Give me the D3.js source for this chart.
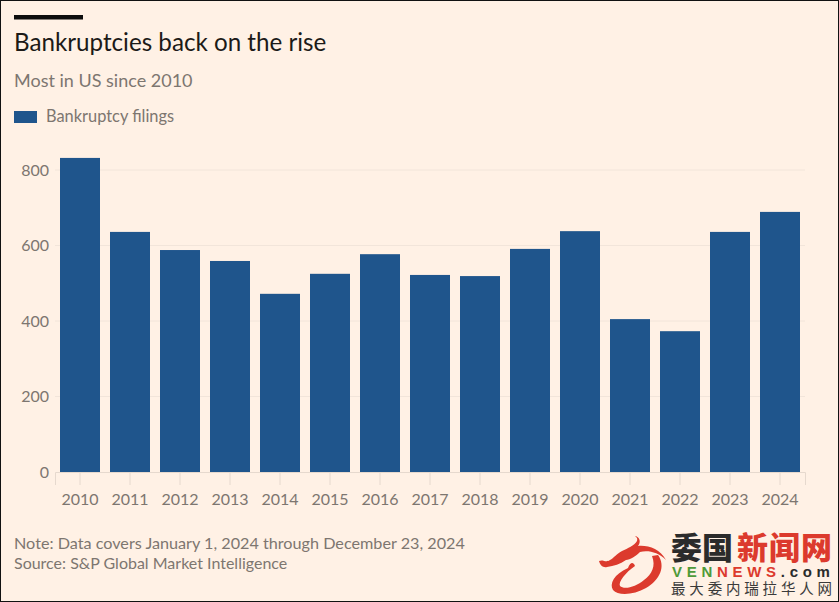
<!DOCTYPE html>
<html>
<head>
<meta charset="utf-8">
<script src="https://cdn.jsdelivr.net/npm/d3@7"></script>
<style>
html, body { margin: 0; padding: 0; background: #fff1e5; }
svg { display: block; font-family: Lato, sans-serif; }
</style>
</head>
<body>
<script>
const years = ["2010", "2011", "2012", "2013", "2014", "2015", "2016", "2017", "2018", "2019", "2020", "2021", "2022", "2023", "2024"];
const filings = [832, 636, 588, 559, 472, 525, 577, 522, 519, 591, 638, 405, 373, 636, 689];
const yTicks = [0, 200, 400, 600, 800];

const width = 839, height = 602;
const grey = "#7d7670";
const blue = "#1f558c";
const red = "#dc3a2d";

const svg = d3.select("body").append("svg")
    .attr("width", width)
    .attr("height", height);

svg.append("rect").attr("width", width).attr("height", height).attr("fill", "#fff1e5");

const x = d3.scaleBand().domain(years).range([55, 805]).paddingInner(0.2).paddingOuter(0.1);
const y = d3.scaleLinear().domain([0, 800]).range([472, 170]);

// header
svg.append("rect").attr("x", 14).attr("y", 15).attr("width", 69).attr("height", 4.5).attr("fill", "#0d0d0d");
svg.append("text").attr("x", 14).attr("y", 51).attr("font-size", 24.2).attr("fill", "#1c1a18").text("Bankruptcies back on the rise");
svg.append("text").attr("x", 14).attr("y", 87).attr("font-size", 18).attr("fill", grey).text("Most in US since 2010");

// legend
svg.append("rect").attr("x", 14).attr("y", 111).attr("width", 23).attr("height", 12).attr("fill", blue);
svg.append("text").attr("x", 46).attr("y", 122).attr("font-size", 16.4).attr("fill", grey).text("Bankruptcy filings");

// grid
svg.append("g").selectAll("line")
    .data(yTicks.filter(d => d > 0))
    .join("line")
    .attr("x1", 55).attr("x2", 805)
    .attr("y1", d => y(d)).attr("y2", d => y(d))
    .attr("stroke", "#f2e5da");

// y axis
const yAxis = svg.append("g")
    .attr("transform", "translate(55,0)")
    .call(d3.axisLeft(y).tickValues(yTicks).tickSize(0).tickPadding(6));
yAxis.select(".domain").remove();
yAxis.selectAll("text").attr("font-family", "Lato, sans-serif").attr("font-size", 16).attr("fill", grey);

// x axis
const xAxis = svg.append("g")
    .attr("transform", "translate(0,472)")
    .call(d3.axisBottom(x).tickSize(13).tickPadding(9));
xAxis.select(".domain").attr("stroke", "#e6d9ce");
xAxis.selectAll("line").attr("stroke", "#e6d9ce");
xAxis.selectAll("text").attr("font-family", "Lato, sans-serif").attr("font-size", 16).attr("fill", grey);

// bars
svg.append("g").selectAll("rect")
    .data(filings)
    .join("rect")
    .attr("x", (d, i) => x(years[i]))
    .attr("y", d => y(d))
    .attr("width", x.bandwidth())
    .attr("height", d => y(0) - y(d))
    .attr("fill", blue);

// footer
svg.append("text").attr("x", 14).attr("y", 549).attr("font-size", 16.2).attr("fill", grey).text("Note: Data covers January 1, 2024 through December 23, 2024");
svg.append("text").attr("x", 14).attr("y", 569).attr("font-size", 16).attr("fill", grey).text("Source: S&P Global Market Intelligence");

// watermark
const logo = svg.append("g");
logo.append("path")
    .attr("d", "M599 561 C603 559 606 563 610 560 C614 558 616 554 622 551 C628 548 634 546 637 541 C638 538 636 537 635 536 C640 537 641 542 638 546 C648 545 660 549 666 560 C658 552 648 550 640 552 C636 556 630 560 626 560 C620 564 614 566 607 567 C603 568 600 565 599 561 Z")
    .attr("fill", red);
logo.append("path")
    .attr("d", "M658 555 C666 566 660 580 646 588 C634 595 618 596 613 590 C609 584 614 574 628 568 C630 563 633 561 635 566 C626 572 618 582 620 586 C624 590 636 587 644 580 C652 574 656 566 652 556 Z")
    .attr("fill", red);
const cjk = "'Noto Sans CJK SC', sans-serif";
const latin = "'Liberation Sans', sans-serif";
logo.append("text").attr("x", 671).attr("y", 559).attr("font-family", cjk).attr("font-weight", 900).attr("font-size", 31).attr("fill", "#2b2b2b").text("委国");
logo.append("text").attr("x", 737).attr("y", 559).attr("font-family", cjk).attr("font-weight", 900).attr("font-size", 31).attr("textLength", 95).attr("fill", red).text("新闻网");
const brand = logo.append("text").attr("x", 672).attr("y", 576.5)
    .attr("font-family", latin).attr("font-weight", 700).attr("font-size", 15)
    .attr("letter-spacing", 4.7);
brand.append("tspan").attr("fill", "#4f9a3a").text("VEN");
brand.append("tspan").attr("fill", red).text("NEWS");
brand.append("tspan").attr("fill", "#2b2b2b").text(".com");
logo.append("text").attr("x", 671).attr("y", 594).attr("font-family", cjk).attr("font-size", 14.5).attr("textLength", 161).attr("fill", "#3a3a3a").text("最大委内瑞拉华人网");

// outer frame
svg.append("rect").attr("x", 0.5).attr("y", 0.5).attr("width", width - 1).attr("height", height - 1)
    .attr("fill", "none").attr("stroke", "#111");
</script>
</body>
</html>
